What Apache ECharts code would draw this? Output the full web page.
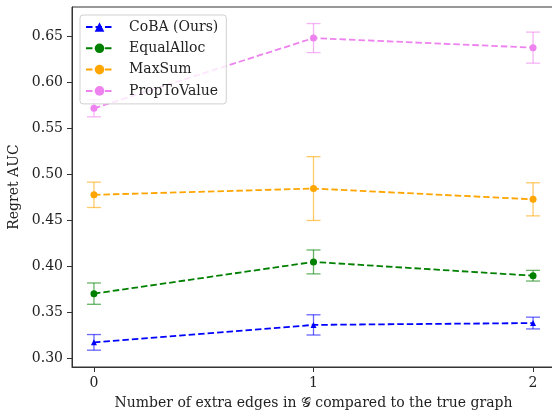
<!DOCTYPE html>
<html><head><meta charset="utf-8">
<script src="https://cdn.jsdelivr.net/npm/echarts@6/dist/echarts.min.js"></script>
<style>html,body{margin:0;padding:0;background:#fff}#c{width:552px;height:411px}</style>
</head><body><div id="c"></div>
<script>
const xValues = [0, 1, 2];
const xTicks = [0, 1, 2];
const yTicks = [0.30, 0.35, 0.40, 0.45, 0.50, 0.55, 0.60, 0.65];
const seriesNames = ['CoBA (Ours)', 'EqualAlloc', 'MaxSum', 'PropToValue'];
const cobaMean = [0.317, 0.336, 0.338];
const cobaErr = [0.0085, 0.011, 0.0064];
const equalMean = [0.370, 0.4045, 0.3895];
const equalErr = [0.0116, 0.013, 0.0058];
const maxSumMean = [0.4775, 0.4843, 0.4726];
const maxSumErr = [0.0138, 0.0347, 0.018];
const propMean = [0.5716, 0.648, 0.6376];
const propErr = [0.0093, 0.0158, 0.0169];
const xLabel = 'Number of extra edges in 𝒢 compared to the true graph';
const yLabel = 'Regret AUC';

const colors = ['#0000ff', '#008000', '#ffa500', '#ee82ee'];
const symbols = ['triangle', 'circle', 'circle', 'circle'];
const symbolSizes = [6, 7, 7, 7];
const means = [cobaMean, equalMean, maxSumMean, propMean];
const errs = [cobaErr, equalErr, maxSumErr, propErr];
const font = 'DejaVu Serif';
const fs = 14;

const series = [];
seriesNames.forEach((name, i) => {
  series.push({
    name: name,
    type: 'line',
    data: xValues.map((x, k) => [x, means[i][k]]),
    symbol: symbols[i],
    symbolSize: symbolSizes[i],
    showAllSymbol: true,
    lineStyle: { color: colors[i], width: 1.8, type: [6.5, 3] },
    itemStyle: { color: colors[i] },
    emphasis: { disabled: true },
    z: 3,
    animation: false
  });
  series.push({
    name: name + ' err',
    type: 'custom',
    data: xValues.map((x, k) => [x, means[i][k] - errs[i][k], means[i][k] + errs[i][k]]),
    renderItem: function (params, api) {
      const lo = api.coord([api.value(0), api.value(1)]);
      const hi = api.coord([api.value(0), api.value(2)]);
      const hw = 7;
      const st = { stroke: colors[i], lineWidth: 1.3, opacity: 0.6 };
      return {
        type: 'group',
        children: [
          { type: 'line', shape: { x1: lo[0], y1: lo[1], x2: hi[0], y2: hi[1] }, style: st },
          { type: 'line', shape: { x1: lo[0] - hw, y1: lo[1], x2: lo[0] + hw, y2: lo[1] }, style: st },
          { type: 'line', shape: { x1: hi[0] - hw, y1: hi[1], x2: hi[0] + hw, y2: hi[1] }, style: st }
        ]
      };
    },
    z: 2,
    silent: true,
    animation: false
  });
});

const chart = echarts.init(document.getElementById('c'), null, { renderer: 'canvas' });
chart.setOption({
  backgroundColor: '#fff',
  animation: false,
  grid: { left: 72, top: 7, width: 483, height: 360, outerBoundsMode: 'none', containLabel: false, show: true, borderColor: '#333', borderWidth: 1, backgroundColor: 'transparent' },
  legend: {
    data: seriesNames,
    orient: 'vertical',
    left: 80,
    top: 15,
    padding: [5, 8, 6, 5],
    itemWidth: 27,
    itemHeight: 12,
    itemGap: 7.3,
    backgroundColor: 'rgba(255,255,255,0.8)',
    borderColor: '#d0d0d0',
    borderWidth: 1,
    borderRadius: 3,
    textStyle: { fontFamily: font, fontSize: fs, lineHeight: 14, color: '#222', padding: [0, 0, 0, 11] }
  },
  xAxis: {
    type: 'value',
    min: -0.1,
    max: 2.1,
    name: xLabel,
    nameLocation: 'middle',
    nameGap: 29,
    nameTextStyle: { fontFamily: font, fontSize: fs, color: '#222' },
    axisLine: { show: true, onZero: false, lineStyle: { color: '#333' } },
    axisTick: { show: true, length: 5, lineStyle: { color: '#333' }, customValues: xTicks },
    axisLabel: { fontFamily: font, fontSize: fs, color: '#222', margin: 9, customValues: xTicks },
    splitLine: { show: false }
  },
  yAxis: {
    type: 'value',
    min: 0.2902,
    max: 0.6818,
    name: yLabel,
    nameLocation: 'middle',
    nameGap: 48,
    nameTextStyle: { fontFamily: font, fontSize: fs, color: '#222' },
    axisLine: { show: true, onZero: false, lineStyle: { color: '#333' } },
    axisTick: { show: true, length: 5, lineStyle: { color: '#333' }, customValues: yTicks },
    axisLabel: { fontFamily: font, fontSize: fs, color: '#222', margin: 9, customValues: yTicks, formatter: v => v.toFixed(2) },
    splitLine: { show: false }
  },
  series: series
});
</script></body></html>
